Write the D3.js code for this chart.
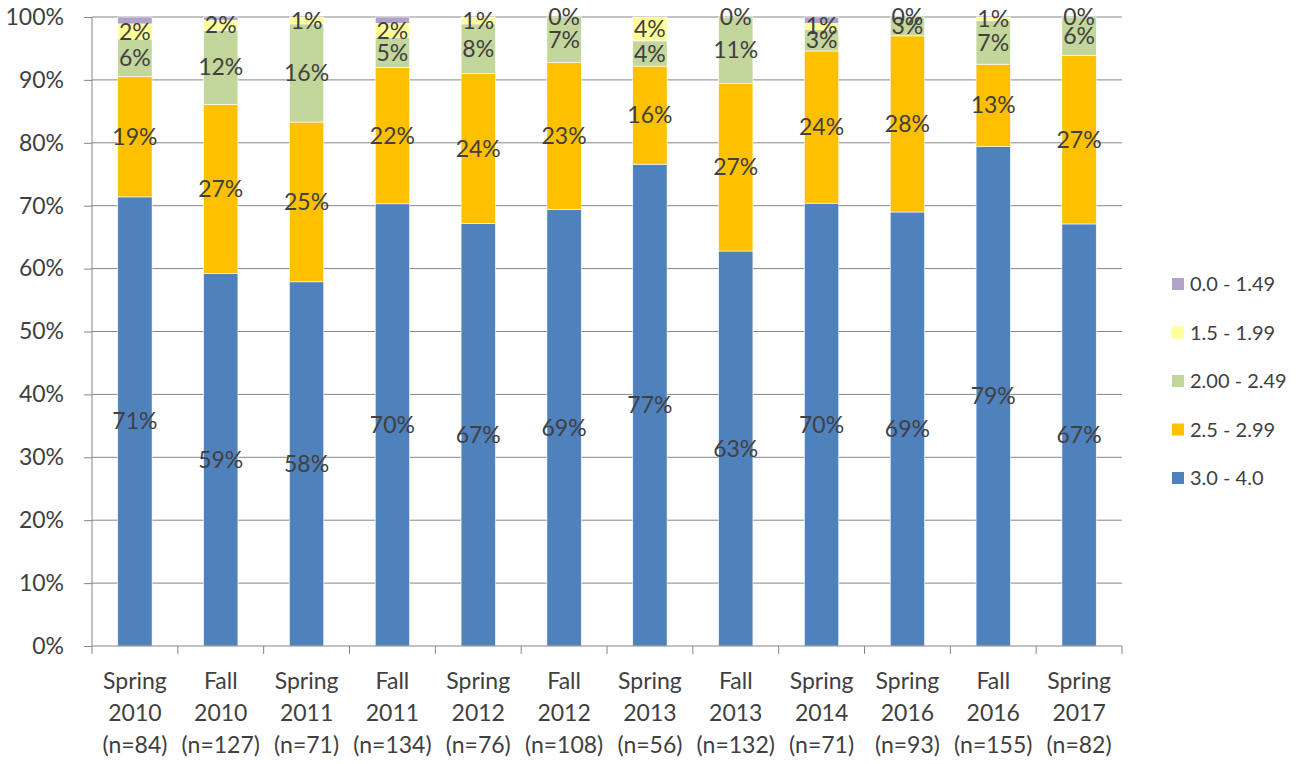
<!DOCTYPE html>
<html>
<head>
<meta charset="utf-8">
<script src="https://cdn.jsdelivr.net/npm/d3@7"></script>
<style>
  body { margin: 0; background: #fff; }
  svg text { font-family: Lato, "Open Sans", sans-serif; fill: #404040; }
</style>
</head>
<body>
<div class="canvas"></div>
<script>
// categories, three label lines each
const terms = ["Spring", "Fall", "Spring", "Fall", "Spring", "Fall", "Spring", "Fall", "Spring", "Spring", "Fall", "Spring"];
const years = ["2010", "2010", "2011", "2011", "2012", "2012", "2013", "2013", "2014", "2016", "2016", "2017"];
const counts = [84, 127, 71, 134, 76, 108, 56, 132, 71, 93, 155, 82];

// series, bottom to top (percent)
const seriesNames = ["3.0 - 4.0", "2.5 - 2.99", "2.00 - 2.49", "1.5 - 1.99", "0.0 - 1.49"];
const gpa30 = [71.4, 59.2, 57.9, 70.3, 67.2, 69.4, 76.6, 62.8, 70.4, 69.0, 79.4, 67.1];
const gpa25 = [19.1, 26.9, 25.4, 21.7, 23.8, 23.4, 15.6, 26.6, 24.2, 28.0, 13.1, 26.8];
const gpa20 = [6.0, 11.8, 15.6, 4.7, 7.9, 7.2, 4.0, 10.6, 3.4, 3.0, 6.9, 6.1];
const gpa15 = [2.4, 1.6, 1.1, 2.3, 1.1, 0, 3.8, 0, 1.0, 0, 0.6, 0];
const gpa00 = [1.1, 0.5, 0, 1.0, 0, 0, 0, 0, 1.0, 0, 0, 0];
const yTicks = [0, 10, 20, 30, 40, 50, 60, 70, 80, 90, 100];

const colors = ["#4F81BD", "#FFC000", "#C3D69B", "#FFFF99", "#B3A2C7"];
const showLabel = [true, true, true, true, false];

const W = 1302, H = 764;
const margin = { left: 92, right: 182, top: 17, bottom: 118 };

const svg = d3.select(".canvas").append("svg")
    .attr("width", W)
    .attr("height", H);

const cats = terms.map((t, i) => i);
const x = d3.scaleBand().domain(cats).range([margin.left, 1122]).paddingInner(0.6).paddingOuter(0.3);
const xSlot = d3.scaleBand().domain(cats).range([margin.left, 1122]);
const y = d3.scaleLinear().domain([0, 100]).range([H - margin.bottom, margin.top]);

// gridlines
svg.append("g").selectAll("line")
    .data(yTicks.filter(d => d > 0))
    .enter().append("line")
    .attr("x1", margin.left).attr("x2", 1122)
    .attr("y1", d => y(d)).attr("y2", d => y(d))
    .attr("stroke", "#868686").attr("stroke-width", 1);

// stacked data
const rows = cats.map(i => {
    const r = { i };
    seriesNames.forEach((s, k) => r[s] = [gpa30, gpa25, gpa20, gpa15, gpa00][k][i]);
    return r;
});
const stack = d3.stack().keys(seriesNames)(rows);

const layers = svg.append("g").selectAll("g")
    .data(stack)
    .enter().append("g")
    .attr("fill", (d, k) => colors[k]);

layers.selectAll("rect")
    .data(d => d)
    .enter().append("rect")
    .attr("x", d => x(d.data.i))
    .attr("width", x.bandwidth())
    .attr("y", d => y(d[1]))
    .attr("height", d => y(d[0]) - y(d[1]))
    .attr("stroke", "#fff")
    .attr("stroke-width", 0.6);

// data labels
stack.forEach((layer, k) => {
    if (!showLabel[k]) return;
    svg.append("g").selectAll("text")
        .data(layer)
        .enter().append("text")
        .attr("x", d => x(d.data.i) + x.bandwidth() / 2)
        .attr("y", d => y((d[0] + d[1]) / 2))
        .attr("dy", "0.35em")
        .attr("text-anchor", "middle")
        .attr("font-size", 23)
        .text(d => Math.round(d[1] - d[0]) + "%");
});

// y axis
const yAxis = svg.append("g")
    .attr("transform", `translate(${margin.left},0)`)
    .call(d3.axisLeft(y).tickValues(yTicks).tickFormat(d => d + "%").tickSize(8).tickPadding(20));
yAxis.select(".domain").attr("stroke", "#868686").attr("d", `M0,${y(0)}V${y(100)}`);
yAxis.selectAll(".tick line").attr("stroke", "#868686");
yAxis.selectAll(".tick text").attr("font-size", 23).attr("fill", "#404040").attr("font-family", "Lato, sans-serif");

// x axis
const xAxis = svg.append("g")
    .attr("transform", `translate(0,${y(0)})`);
xAxis.append("line")
    .attr("x1", margin.left).attr("x2", 1122)
    .attr("stroke", "#868686");
xAxis.selectAll(".tk")
    .data(d3.range(13))
    .enter().append("line")
    .attr("x1", d => margin.left + d * xSlot.step())
    .attr("x2", d => margin.left + d * xSlot.step())
    .attr("y1", 0).attr("y2", 8)
    .attr("stroke", "#868686");

const xl = xAxis.selectAll(".xl")
    .data(cats)
    .enter().append("text")
    .attr("text-anchor", "middle")
    .attr("font-size", 23)
    .attr("transform", d => `translate(${xSlot(d) + xSlot.bandwidth() / 2},0)`);
xl.append("tspan").attr("x", 0).attr("y", 43).text(d => terms[d]);
xl.append("tspan").attr("x", 0).attr("y", 75).text(d => years[d]);
xl.append("tspan").attr("x", 0).attr("y", 107).text(d => `(n=${counts[d]})`);

// legend, top item is last series
const legendOrder = [4, 3, 2, 1, 0];
const legend = svg.append("g").selectAll("g")
    .data(legendOrder)
    .enter().append("g")
    .attr("transform", (d, j) => `translate(1172,${284 + j * 48.5})`);
legend.append("rect")
    .attr("y", -6).attr("width", 12).attr("height", 12)
    .attr("fill", d => colors[d]);
legend.append("text")
    .attr("x", 18).attr("dy", "0.35em")
    .attr("font-size", 20)
    .text(d => seriesNames[d]);
</script>
</body>
</html>
